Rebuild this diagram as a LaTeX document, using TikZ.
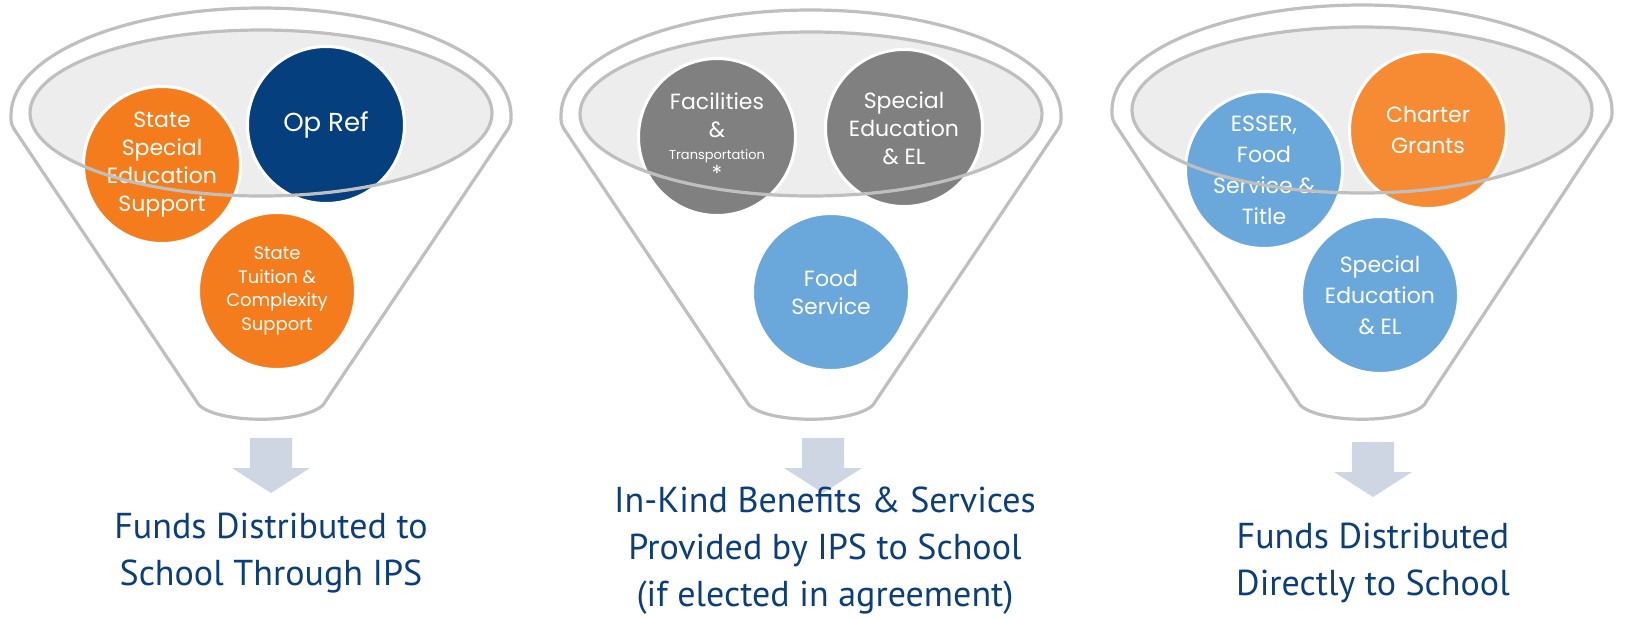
\documentclass[tikz,border=0pt]{standalone}
\usepackage{fontspec}
\setmainfont{Poppins}
\newfontfamily\titlefont{PT Sans}

\definecolor{rimgray}{RGB}{191,191,191}
\definecolor{bowlgray}{RGB}{237,237,237}
\definecolor{fundorange}{RGB}{244,124,28}
\definecolor{chartorange}{RGB}{246,139,51}
\definecolor{fundnavy}{RGB}{6,63,125}
\definecolor{fundgray}{RGB}{128,128,128}
\definecolor{fundblue}{RGB}{106,168,220}
\definecolor{arrowgray}{RGB}{206,214,227}
\definecolor{titleblue}{RGB}{12,62,124}

\tikzset{
  funnel/.style={draw=rimgray, line width=1.6pt, line join=round},
  bowl/.style={fill=bowlgray},
  rim/.style={draw=rimgray, line width=1.6pt},
  fund/.style={circle, draw=white, line width=1.5pt, minimum size=78.5pt, inner sep=0pt,
    text=white, align=center, font=\fontsize{11}{14}\selectfont},
  outcome/.style={text=titleblue, align=center, font=\titlefont\fontsize{18}{23.5}\selectfont},
  downarrow/.style={fill=arrowgray}
}

\begin{document}
\begin{tikzpicture}[x=0.5pt, y=-0.5pt]
			\useasboundingbox (0,0) rectangle (1634,617);
		
			\foreach \cx/\cy/\b in {261/115/107, 811/115/105, 1362/110/105}
				\draw[funnel] (\cx-62,405) -- (\cx-247,\cy+14) .. controls (\cx-250,\cy+8) .. (\cx-250,\cy)
					arc[start angle=180, end angle=360, x radius=250, y radius=\b]
					.. controls (\cx+250,\cy+8) .. (\cx+247,\cy+14) -- (\cx+62,405)
					.. controls (\cx+42,424) and (\cx-42,424) .. (\cx-62,405) -- cycle;
		
			\fill[bowl] (261,113) ellipse[x radius=231, y radius=83];
			\fill[bowl] (811,114) ellipse[x radius=231, y radius=82];
			\fill[bowl] (1362,110) ellipse[x radius=230, y radius=83];
		
			\node[fund, fill=fundorange] (ssp) at (162,165) {State\\Special\\Education\\Support};
			\node[fund, fill=fundnavy, font=\fontsize{13}{15}\selectfont] (opref) at (326,125) {Op Ref};
			\node[fund, fill=fundorange, font=\fontsize{9}{11.7}\selectfont] (tuition) at (277,291) {State\\Tuition \&\\Complexity\\Support};
		
			\node[fund, fill=fundgray] (facil) at (717,137) {Facilities\\\&\\[-3pt]{\fontsize{6.5}{8}\selectfont Transportation}\\[-3pt]*};
			\node[fund, fill=fundgray] (sped2) at (904,128) {Special\\Education\\\& EL};
			\node[fund, fill=fundblue] (food) at (831,292) {Food\\Service};
		
			\node[fund, fill=fundblue, font=\fontsize{11}{15.5}\selectfont] (esser) at (1264,170) {ESSER,\\Food\\Service \&\\Title};
			\node[fund, fill=chartorange, font=\fontsize{11}{15.5}\selectfont] (charter) at (1428,130) {Charter\\Grants};
			\node[fund, fill=fundblue, font=\fontsize{11}{15.5}\selectfont] (sped3) at (1380,295) {Special\\Education\\\& EL};
		
			\draw[rim] (261,113) ellipse[x radius=231, y radius=83];
			\draw[rim] (811,114) ellipse[x radius=231, y radius=82];
			\draw[rim] (1362,110) ellipse[x radius=230, y radius=83];
		
			\foreach \ax/\ay in {271/438, 823/438, 1373/442}
				\fill[downarrow] (\ax-21,\ay) -- (\ax+21,\ay) -- (\ax+21,\ay+30) -- (\ax+39,\ay+30)
					-- (\ax,\ay+55) -- (\ax-39,\ay+30) -- (\ax-21,\ay+30) -- cycle;
		
			\node[outcome] (viaips) at (271,553) {Funds Distributed to\\School Through IPS};
			\node[outcome] (inkind) at (825,551) {In-Kind Benefits \& Services\\Provided by IPS to School\\(if elected in agreement)};
			\node[outcome] (direct) at (1373,563) {Funds Distributed\\Directly to School};
		\end{tikzpicture}
\end{document}
